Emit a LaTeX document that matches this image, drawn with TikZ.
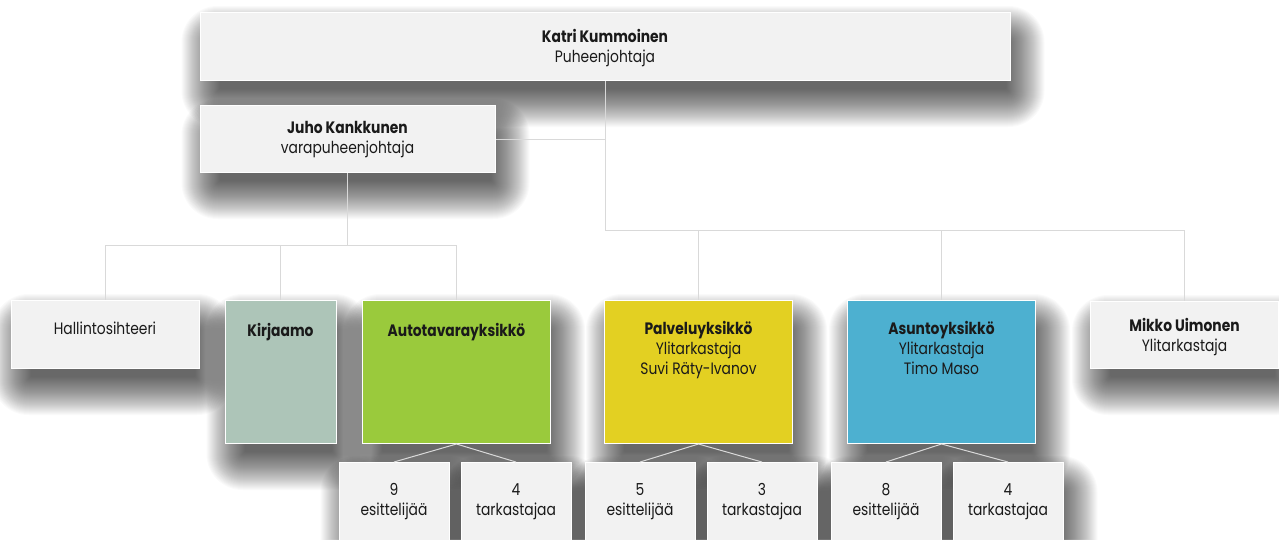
\documentclass[tikz,border=0pt]{standalone}
\usepackage{fontspec}
\setmainfont[FakeStretch=0.84]{Poppins}
\usepackage{tikz}
\usetikzlibrary{calc}

\definecolor{cardgray}{HTML}{F2F2F2}
\definecolor{kirjaamo}{HTML}{ADC5B8}
\definecolor{autogreen}{HTML}{9ACA3C}
\definecolor{palveluyellow}{HTML}{E3D022}
\definecolor{asuntoblue}{HTML}{4DB0D0}
\definecolor{linegray}{HTML}{D9D9D9}
\definecolor{inkblack}{HTML}{1A1A1A}

\pgfdeclarelayer{paper}
\pgfdeclarelayer{shadow}
\pgfsetlayers{paper,shadow,main}

\begin{document}
\begin{tikzpicture}[x=1pt,y=-1pt,
  card/.style={rectangle,draw=white,line width=1pt,inner sep=0pt,anchor=north,
    align=center,text=inkblack,font=\fontsize{16.5}{20}\selectfont},
  person node/.style={card,fill=cardgray},
  unit node/.style={card,minimum width=188pt},
  count node/.style={card,fill=cardgray,minimum width=110pt,text height=53pt,text depth=70pt},
  line/.style={draw=linegray,line width=1pt}]

  \useasboundingbox (0,0) rectangle (1279,539);
  \clip (0,0) rectangle (1279,539);

  \node[person node,minimum width=810pt,text height=50pt,text depth=18pt] (1) at (605,12)
    {\textbf{Katri Kummoinen}\\Puheenjohtaja};
  \node[person node,minimum width=295pt,text height=48pt,text depth=19pt] (2) at (347.5,105)
    {\textbf{Juho Kankkunen}\\varapuheenjohtaja};

  \node[person node,minimum width=188pt,text height=34pt,text depth=34pt] (3) at (105,300)
    {Hallintosihteeri};
  \node[unit node,fill=kirjaamo,minimum width=111pt,text height=36pt,text depth=107pt] (4) at (280.5,300)
    {\textbf{Kirjaamo}};
  \node[unit node,fill=autogreen,text height=36pt,text depth=107pt] (5) at (456.5,300)
    {\textbf{Autotavarayksikkö}};
  \node[unit node,fill=palveluyellow,text height=74pt,text depth=69pt] (6) at (698.5,300)
    {\textbf{Palveluyksikkö}\\Ylitarkastaja\\Suvi Räty-Ivanov};
  \node[unit node,fill=asuntoblue,text height=74pt,text depth=69pt] (7) at (941.5,300)
    {\textbf{Asuntoyksikkö}\\Ylitarkastaja\\Timo Maso};
  \node[person node,minimum width=188pt,text height=50pt,text depth=17pt] (8) at (1184.5,301)
    {\textbf{Mikko Uimonen}\\Ylitarkastaja};

  \node[count node] (9) at (394,462) {9\\esittelijää};
  \node[count node] (10) at (516,462) {4\\tarkastajaa};
  \node[count node] (11) at (640,462) {5\\esittelijää};
  \node[count node] (12) at (762,462) {3\\tarkastajaa};
  \node[count node] (13) at (886,462) {8\\esittelijää};
  \node[count node] (14) at (1008,462) {4\\tarkastajaa};

  % white page and soft shadows behind the boxes
  \begin{pgfonlayer}{paper}
    \fill[white] (0,0) rectangle (1279,539);
  \end{pgfonlayer}
  \begin{pgfonlayer}{shadow}
    \foreach \n in {1,...,14}{
      \foreach \e in {26,25,...,-12}{
        \pgfmathsetmacro\rad{max(\e+10,1)}
        \fill[black,opacity=0.018,rounded corners=\rad pt]
          ($(\n.north west)+(8-\e,20-\e)$) rectangle ($(\n.south east)+(8+\e,20+\e)$);
      }
    }
  \end{pgfonlayer}

  % connectors
  \coordinate (j1) at (605,230);
  \coordinate (j2) at (347.5,245);
  \draw[line] (1.south) -- (j1) -| (8.north);
  \draw[line] (j1) -| (6.north);
  \draw[line] (j1) -| (7.north);
  \draw[line] (2.east) -- (2.east -| j1);
  \draw[line] (2.south) -- (j2) -| (3.north);
  \draw[line] (j2) -| (4.north);
  \draw[line] (j2) -| (5.north);
  \foreach \u/\l/\r in {5/9/10,6/11/12,7/13/14}{
    \draw[line] (\u.south) -- (\l.north);
    \draw[line] (\u.south) -- (\r.north);
  }
\end{tikzpicture}
\end{document}
